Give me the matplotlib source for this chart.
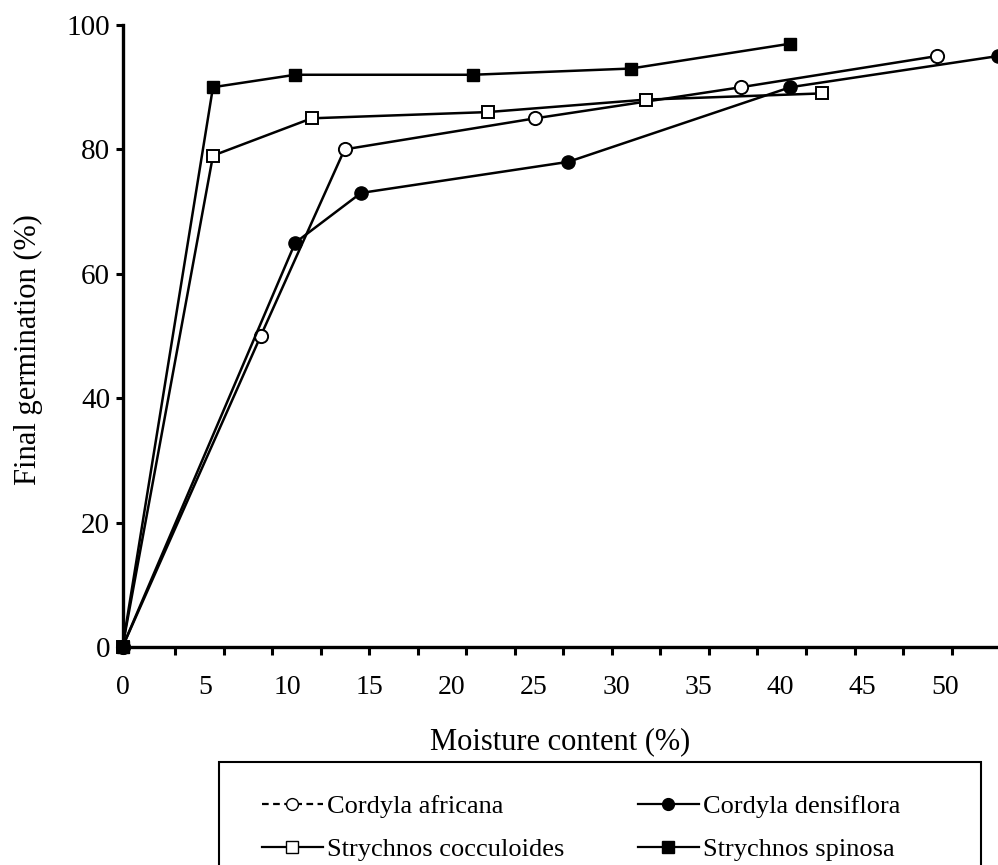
import matplotlib
matplotlib.use("Agg")
import matplotlib.pyplot as plt
from matplotlib.lines import Line2D
from matplotlib.patches import Rectangle
import numpy as np

plt.rcParams['font.family'] = ['Liberation Serif', 'DejaVu Serif']

# Data
africana_x = [0, 8.4, 13.5, 25.1, 37.6, 49.5]
africana_y = [0, 50, 80, 85, 90, 95]
densiflora_x = [0, 10.5, 14.5, 27.1, 40.6, 53.2]
densiflora_y = [0, 65, 73, 78, 90, 95]
cocculoides_x = [0, 5.5, 11.5, 22.2, 31.8, 42.5]
cocculoides_y = [0, 79, 85, 86, 88, 89]
spinosa_x = [0, 5.5, 10.5, 21.3, 30.9, 40.6]
spinosa_y = [0, 90, 92, 92, 93, 97]

x_ticklabels = [0, 5, 10, 15, 20, 25, 30, 35, 40, 45, 50]
y_ticks = [0, 20, 40, 60, 80, 100]

W, H = 998, 865
fig = plt.figure(figsize=(W / 100, H / 100), dpi=100)
x0px, y0px, y100px = 122.5, 647, 25
ax = fig.add_axes([x0px / W, 1 - y0px / H, 1 - x0px / W, (y0px - y100px) / H])
ax.set_xlim(0, (W - x0px) / 16.45)
ax.set_ylim(0, 100)

lw = 1.8
ax.plot(africana_x, africana_y, color='black', lw=lw, marker='o', ms=9.5,
        mfc='white', mec='black', mew=1.4, clip_on=False, zorder=3)
ax.plot(densiflora_x, densiflora_y, color='black', lw=lw, marker='o', ms=9.5,
        mfc='black', mec='black', clip_on=False, zorder=3)
ax.plot(cocculoides_x, cocculoides_y, color='black', lw=lw, marker='s', ms=9,
        mfc='white', mec='black', mew=1.4, clip_on=False, zorder=3)
ax.plot(spinosa_x, spinosa_y, color='black', lw=lw, marker='s', ms=9,
        mfc='black', mec='black', clip_on=False, zorder=3)

for s in ['top', 'right']:
    ax.spines[s].set_visible(False)
for s in ['left', 'bottom']:
    ax.spines[s].set_linewidth(2.4)
    ax.spines[s].set_color('black')

ax.set_yticks(y_ticks)
ax.set_yticklabels([str(v) for v in y_ticks])
ax.tick_params(axis='y', direction='out', length=5, width=2.2, pad=4, labelsize=21)

ax.set_xticks(x_ticklabels)
ax.set_xticklabels([str(v) for v in x_ticklabels])
ax.tick_params(axis='x', which='major', length=0, pad=20, labelsize=20)
ax.set_xticks(np.linspace(3.19, 50.4, 17), minor=True)
ax.tick_params(axis='x', which='minor', direction='out', length=6, width=2.2)

ax.set_xlabel('Moisture content (%)', fontsize=22, labelpad=20)
ax.set_ylabel('Final germination (%)', fontsize=22)
ax.yaxis.set_label_coords(-0.091, (y0px - 350) / (y0px - y100px))

# legend frame (open at the bottom, cut by the figure edge)
fig.patches.append(Rectangle((219 / W, -0.05), (981 - 219) / W, 0.05 + 1 - 762 / H,
                             transform=fig.transFigure, fill=False,
                             edgecolor='black', linewidth=1.5))

handles = [
    Line2D([], [], color='black', lw=1.6, ls=(0, (3, 2)), marker='o', ms=8.5,
           mfc='white', mec='black'),
    Line2D([], [], color='black', lw=1.6, marker='o', ms=8.5, mfc='black', mec='black'),
    Line2D([], [], color='black', lw=1.6, marker='s', ms=8, mfc='white', mec='black'),
    Line2D([], [], color='black', lw=1.6, marker='s', ms=8, mfc='black', mec='black'),
]
labels = ['Cordyla africana', 'Cordyla densiflora', 'Strychnos cocculoides', 'Strychnos spinosa']
order = [0, 2, 1, 3]
leg = fig.legend([handles[i] for i in order], [labels[i] for i in order], ncol=2,
                 loc='upper left', bbox_to_anchor=(262 / W, 1 - 795 / H),
                 frameon=False, fontsize=19,
                 handlelength=2.3, handletextpad=0.15, columnspacing=2.8,
                 borderpad=0, labelspacing=0.72, borderaxespad=0)

fig.savefig('out.png', dpi=100)
